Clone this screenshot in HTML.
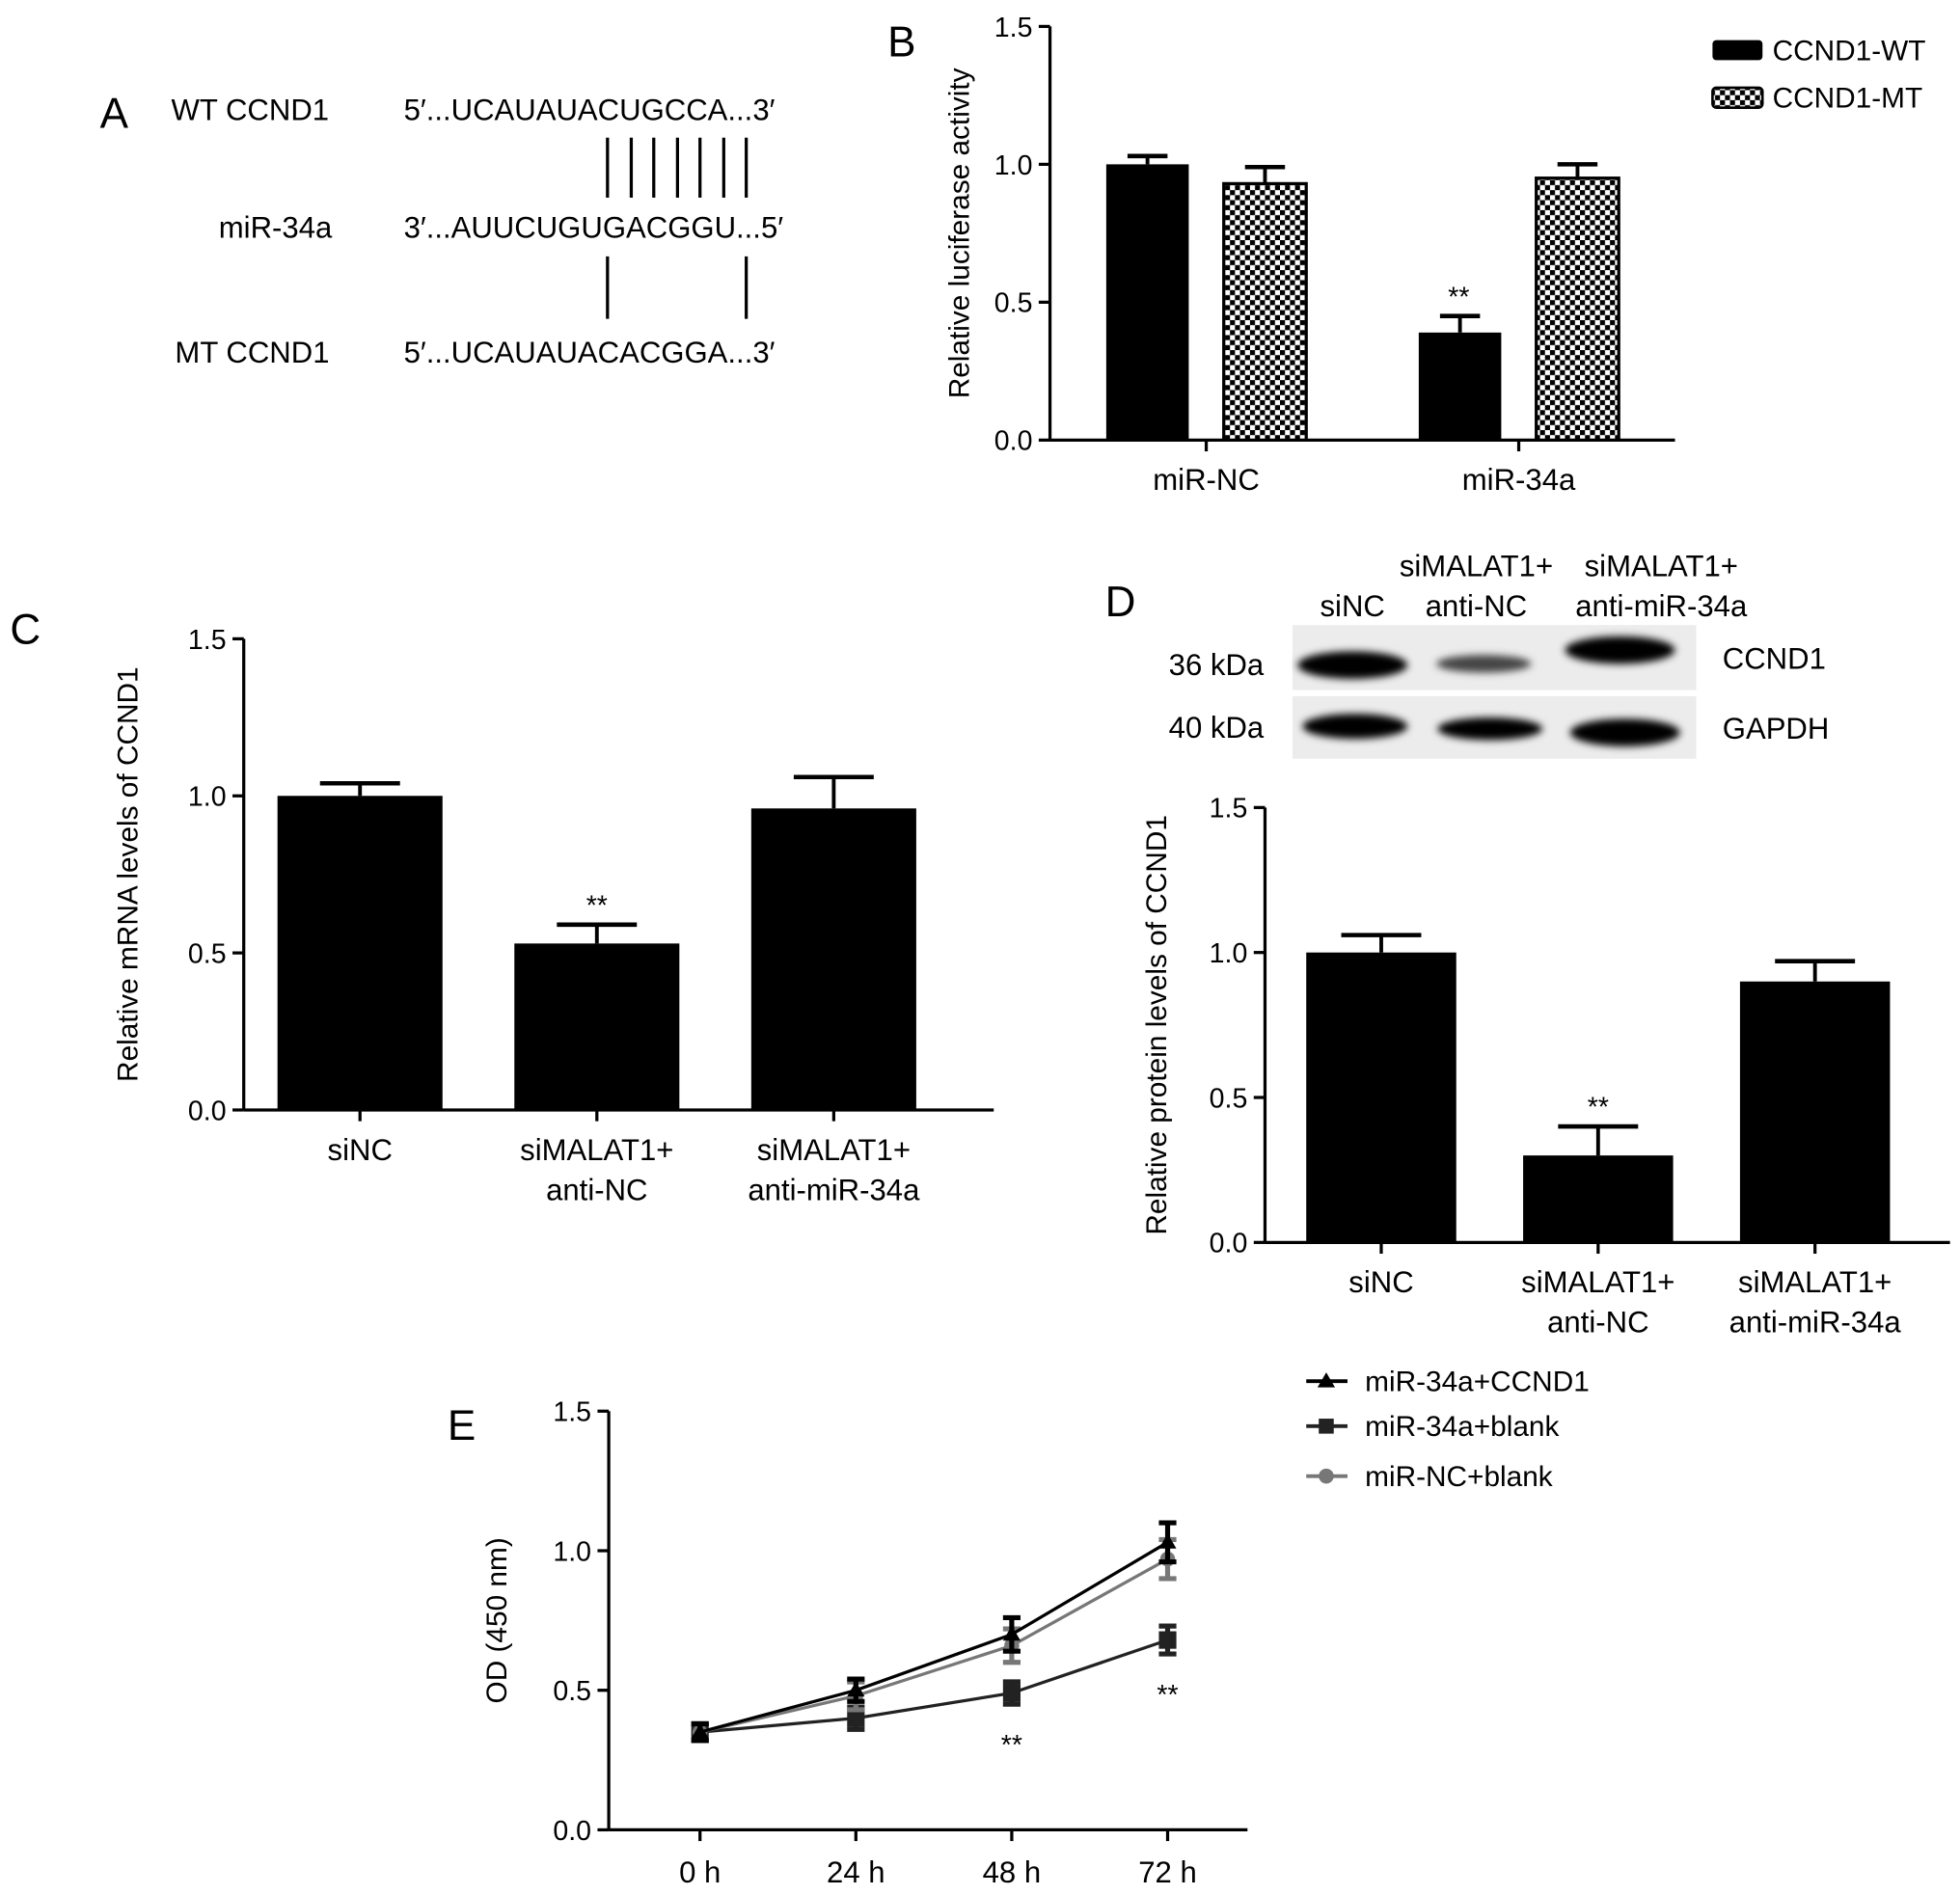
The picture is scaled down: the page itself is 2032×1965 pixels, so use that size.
<!DOCTYPE html>
<html><head><meta charset="utf-8"><style>
html,body{margin:0;padding:0;background:#fff}
svg{display:block}
text{font-family:"Liberation Sans",sans-serif;fill:#000}
</style></head><body>
<svg id="fig" width="2032" height="1965" viewBox="0 0 1568 1516" xmlns="http://www.w3.org/2000/svg">
<defs>
<pattern id="chk" width="8" height="8" patternUnits="userSpaceOnUse">
<rect width="8" height="8" fill="#fff"/><rect width="4" height="4" fill="#000"/><rect x="4" y="4" width="4" height="4" fill="#000"/>
</pattern>
<filter id="blur"><feGaussianBlur stdDeviation="3"/></filter>
</defs>
<g font-size="24">
<text x="80" y="102" font-size="34">A</text>
<text x="137" y="96">WT CCND1</text>
<text x="323" y="96">5′...UCAUAUACUGCCA...3′</text>
<text x="175" y="190">miR-34a</text>
<text x="323" y="190">3′...AUUCUGUGACGGU...5′</text>
<text x="140" y="290">MT CCND1</text>
<text x="323" y="290">5′...UCAUAUACACGGA...3′</text>
<g stroke="#000" stroke-width="2.5">
<line x1="486" y1="110" x2="486" y2="158"/><line x1="505" y1="110" x2="505" y2="158"/><line x1="523" y1="110" x2="523" y2="158"/><line x1="542" y1="110" x2="542" y2="158"/><line x1="560" y1="110" x2="560" y2="158"/><line x1="579" y1="110" x2="579" y2="158"/><line x1="597" y1="110" x2="597" y2="158"/>
<line x1="486" y1="205" x2="486" y2="255"/><line x1="597" y1="205" x2="597" y2="255"/>
</g>
</g>
<g id="pB"></g>
<g id="pC"></g>
<g id="pD"></g>
<g id="pE"></g>
<g font-size="24">
<text x="884" y="493" font-size="34">D</text>
<text x="1082" y="493" text-anchor="middle">siNC</text>
<text x="1181" y="461" text-anchor="middle">siMALAT1+</text>
<text x="1181" y="493" text-anchor="middle">anti-NC</text>
<text x="1329" y="461" text-anchor="middle">siMALAT1+</text>
<text x="1329" y="493" text-anchor="middle">anti-miR-34a</text>
<text x="935" y="540">36 kDa</text>
<text x="935" y="590">40 kDa</text>
<text x="1378" y="535">CCND1</text>
<text x="1378" y="591">GAPDH</text>
<rect x="1034" y="500" width="323" height="52" fill="#ececec"/>
<rect x="1034" y="557" width="323" height="50" fill="#ececec"/>
<g filter="url(#blur)" fill="#000">
<ellipse cx="1082" cy="532" rx="44" ry="11"/>
<ellipse cx="1187" cy="531" rx="38" ry="7" fill="#444"/>
<ellipse cx="1296" cy="520" rx="44" ry="11"/>
<ellipse cx="1084" cy="581" rx="42" ry="10"/>
<ellipse cx="1192" cy="583" rx="42" ry="9"/>
<ellipse cx="1300" cy="586" rx="44" ry="11"/>
</g>
</g>
</svg>
<script>
const bCats = ["miR-NC","miR-34a"];
const bWT = [1.0, 0.39];
const bWTerr = [0.03, 0.06];
const bMT = [0.93, 0.95];
const bMTerr = [0.06, 0.05];
const cCats = [["siNC"],["siMALAT1+","anti-NC"],["siMALAT1+","anti-miR-34a"]];
const cVals = [1.0, 0.53, 0.96];
const cErr = [0.04, 0.06, 0.10];
const dCats = [["siNC"],["siMALAT1+","anti-NC"],["siMALAT1+","anti-miR-34a"]];
const dVals = [1.0, 0.30, 0.90];
const dErr = [0.06, 0.10, 0.07];
const eCats = ["0 h","24 h","48 h","72 h"];
const eCCND1 = [0.35, 0.50, 0.70, 1.03];
const eCCND1err = [0.03, 0.04, 0.06, 0.07];
const eBlank = [0.35, 0.40, 0.49, 0.68];
const eBlankErr = [0.03, 0.04, 0.04, 0.05];
const eNC = [0.35, 0.48, 0.66, 0.97];
const eNCerr = [0.03, 0.05, 0.06, 0.07];
const yTicks = [0.0, 0.5, 1.0, 1.5];
const yTickLabels = ["0.0","0.5","1.0","1.5"];

const NS="http://www.w3.org/2000/svg";
function mk(parent, tag, attrs, txt){
  const e=document.createElementNS(NS,tag);
  for(const k in attrs) e.setAttribute(k,attrs[k]);
  if(txt!==undefined) e.textContent=txt;
  parent.appendChild(e); return e;
}
function axes(g, x0, x1, y0, y1, ylabel, ylx, panelName){
  const sy=v=>y0-(v/1.5)*(y0-y1);
  const ax=mk(g,'line',{x1:x0,y1:y1,x2:x0,y2:y0,stroke:'#000','stroke-width':2.5});
  
  
  const bx=mk(g,'line',{x1:x0,y1:y0,x2:x1,y2:y0,stroke:'#000','stroke-width':2.5});
  
  
  yTicks.forEach((v,i)=>{
    const t=mk(g,'line',{x1:x0-9,y1:sy(v),x2:x0,y2:sy(v),stroke:'#000','stroke-width':2.5});
    
    
    const l=mk(g,'text',{x:x0-14,y:sy(v)+8,'text-anchor':'end','font-size':22,fill:'#000'},yTickLabels[i]);
    
    
  });
  const yl=mk(g,'text',{x:ylx,y:(y0+y1)/2,'text-anchor':'middle','font-size':23,transform:`rotate(-90 ${ylx} ${(y0+y1)/2})`},ylabel);
  
  
  return sy;
}
function errBar(g, cx, top, errTop, hw, color, name){
  const a=mk(g,'line',{x1:cx,y1:top,x2:cx,y2:errTop,stroke:color,'stroke-width':3});
  
  
  const b=mk(g,'line',{x1:cx-hw,y1:errTop,x2:cx+hw,y2:errTop,stroke:color,'stroke-width':3.5});
  
  
}
function stars(g,cx,y,name){
  const s=mk(g,'text',{x:cx,y:y,'text-anchor':'middle','font-size':22},'**');
  
  
}
function catLabel(g,cx,y,lines,name){
  lines.forEach((ln,i)=>{
    const t=mk(g,'text',{x:cx,y:y+i*32,'text-anchor':'middle','font-size':24},ln);
    
    
  });
}
(function(){
  const g=document.getElementById('pB');
  const pl=mk(g,'text',{x:710,y:45,'font-size':34},'B');
  
  
  const y0=352,y1=21,x0=840,x1=1340;
  const sy=axes(g,x0,x1,y0,y1,'Relative luciferase activity',775,'panel-b');
  const groupW=(x1-x0)/bCats.length, bw=66;
  bCats.forEach((c,i)=>{
    const gc=x0+groupW*(i+0.5)-0;
    const xw=gc-bw-14+bw/2, xm=gc+14+bw/2;
    const r1=mk(g,'rect',{x:xw-bw/2,y:sy(bWT[i]),width:bw,height:y0-sy(bWT[i]),fill:'#000'});
    
    
    errBar(g,xw,sy(bWT[i]),sy(bWT[i]+bWTerr[i]),16,'#000','error-ccnd1-wt');
    const r2=mk(g,'rect',{x:xm-bw/2,y:sy(bMT[i]),width:bw,height:y0-sy(bMT[i]),fill:'url(#chk)',stroke:'#000','stroke-width':2.5});
    
    
    errBar(g,xm,sy(bMT[i]),sy(bMT[i]+bMTerr[i]),16,'#000','error-ccnd1-mt');
    const t=mk(g,'line',{x1:gc,y1:y0,x2:gc,y2:y0+9,stroke:'#000','stroke-width':2.5});
    
    
    catLabel(g,gc,392,[c],'panel-b-x-tick-label');
  });
  stars(g,1167,sy(bWT[1]+bWTerr[1])-8,'significance-mir34a-wt');
  const l1=mk(g,'rect',{x:1370,y:32,width:40,height:16,fill:'#000',rx:3});
  
  
  const t1=mk(g,'text',{x:1418,y:48,'font-size':23},'CCND1-WT');
  
  
  const l2=mk(g,'rect',{x:1370,y:70,width:40,height:16,fill:'url(#chk)',stroke:'#000','stroke-width':2,rx:3});
  
  
  const t2=mk(g,'text',{x:1418,y:86,'font-size':23},'CCND1-MT');
  
  
})();
function simpleBars(id,label,lx,ly,x0,x1,y0,y1,ytitle,ylx,cats,vals,errs,bw,sig,name,start,step){
  const g=document.getElementById(id);
  const pl=mk(g,'text',{x:lx,y:ly,'font-size':34},label);
  
  
  const sy=axes(g,x0,x1,y0,y1,ytitle,ylx,name);
  cats.forEach((c,i)=>{
    const cx=x0+start+step*i;
    const r=mk(g,'rect',{x:cx-bw/2,y:sy(vals[i]),width:bw,height:y0-sy(vals[i]),fill:'#000'});
    
    
    errBar(g,cx,sy(vals[i]),sy(vals[i]+errs[i]),32,'#000','error-bar');
    const t=mk(g,'line',{x1:cx,y1:y0,x2:cx,y2:y0+9,stroke:'#000','stroke-width':2.5});
    
    
    catLabel(g,cx,y0+40,c,name+'-x-tick-label');
    if(i===sig) stars(g,cx,sy(vals[i]+errs[i])-8,'significance-marker');
  });
}
simpleBars('pC','C',8,515,195,795,888,511,'Relative mRNA levels of CCND1',110,cCats,cVals,cErr,132,1,'panel-c',93,189.5);
simpleBars('pD','D',-999,-999,1012,1560,994,646,'Relative protein levels of CCND1',933,dCats,dVals,dErr,120,1,'panel-d',93,173.5);
(function(){
  const g=document.getElementById('pE');
  const pl=mk(g,'text',{x:358,y:1152,'font-size':34},'E');
  
  
  const x0=487,x1=998,y0=1464,y1=1129;
  const sy=axes(g,x0,x1,y0,y1,'OD (450 nm)',405,'panel-e');
  const sx=i=>560+i*124.7;
  eCats.forEach((c,i)=>{
    const t=mk(g,'line',{x1:sx(i),y1:y0,x2:sx(i),y2:y0+9,stroke:'#000','stroke-width':2.5});
    
    
    catLabel(g,sx(i),y0+42,[c],'panel-e-x-tick-label');
  });
  const series=[
    {v:eBlank,e:eBlankErr,c:'#222',m:'sq',n:'mir34a-blank'},
    {v:eNC,e:eNCerr,c:'#777',m:'ci',n:'mirnc-blank'},
    {v:eCCND1,e:eCCND1err,c:'#000',m:'tri',n:'mir34a-ccnd1'}
  ];
  series.forEach(s=>{
    const pts=s.v.map((v,i)=>sx(i)+','+sy(v)).join(' ');
    const pl=mk(g,'polyline',{points:pts,fill:'none',stroke:s.c,'stroke-width':2.5});
    
    
    s.v.forEach((v,i)=>{
      const cx=sx(i),cy=sy(v);
      const eb=mk(g,'line',{x1:cx,y1:sy(v-s.e[i]),x2:cx,y2:sy(v+s.e[i]),stroke:s.c,'stroke-width':4});
      
      
      [v-s.e[i],v+s.e[i]].forEach(ev=>{
        const cp=mk(g,'line',{x1:cx-7,y1:sy(ev),x2:cx+7,y2:sy(ev),stroke:s.c,'stroke-width':4});
        
        
      });
      let m;
      if(s.m==='sq') m=mk(g,'rect',{x:cx-7,y:cy-7,width:14,height:14,fill:s.c});
      else if(s.m==='ci') m=mk(g,'circle',{cx:cx,cy:cy,r:6,fill:s.c});
      else m=mk(g,'polygon',{points:`${cx},${cy-7} ${cx-7},${cy+5} ${cx+7},${cy+5}`,fill:s.c});
      
      
    });
  });
  stars(g,sx(2),sy(eBlank[2]-eBlankErr[2])+40,'significance-48h');
  stars(g,sx(3),sy(eBlank[3]-eBlankErr[3])+40,'significance-72h');
  const leg=[['miR-34a+CCND1','#000','tri',1105],['miR-34a+blank','#222','sq',1141],['miR-NC+blank','#777','ci',1181]];
  leg.forEach(L=>{
    const y=L[3];
    const ln=mk(g,'line',{x1:1045,y1:y,x2:1078,y2:y,stroke:L[1],'stroke-width':3});
    
    
    let m;
    if(L[2]==='sq') m=mk(g,'rect',{x:1055,y:y-6,width:12,height:12,fill:L[1]});
    else if(L[2]==='ci') m=mk(g,'circle',{cx:1061,cy:y,r:6,fill:L[1]});
    else m=mk(g,'polygon',{points:`1061,${y-7} 1054,${y+5} 1068,${y+5}`,fill:L[1]});
    
    
    const t=mk(g,'text',{x:1092,y:y+8,'font-size':23},L[0]);
    
    
  });
})();
</script>
</body></html>
